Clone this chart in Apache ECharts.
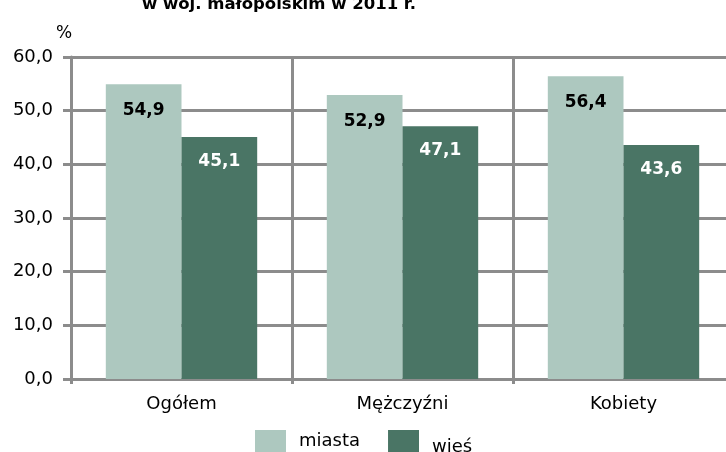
<!DOCTYPE html>
<html>
<head>
<meta charset="utf-8">
<script src="https://cdn.jsdelivr.net/npm/echarts@6/dist/echarts.min.js"></script>
<style>
  html, body { margin: 0; padding: 0; background: #fff; overflow: hidden; }
  /* the plot runs a bit past the right edge of the picture, as in the source */
  #chart { width: 740px; height: 452px; }
</style>
</head>
<body>
<div id="chart"></div>
<script>
const categories = ['Ogółem', 'Mężczyźni', 'Kobiety']
const miasta = [54.9, 52.9, 56.4]
const wies = [45.1, 47.1, 43.6]
const yTicks = { min: 0, max: 60, interval: 10 }

const font = '"DejaVu Sans", Arial, sans-serif'
const gridColor = '#8c8c8c'
const fmt = v => v.toFixed(1).replace('.', ',')

const chart = echarts.init(document.getElementById('chart'))

chart.setOption({
    animation: false,
    textStyle: { fontFamily: font },
    graphic: [
        {
            type: 'text', left: 142, top: -4,
            style: { text: 'w woj. małopolskim w 2011 r.', font: 'bold 16.5px ' + font, fill: '#000' }
        },
        {
            type: 'text', left: 56, top: 25,
            style: { text: '%', font: '17px ' + font, fill: '#000' }
        }
    ],
    legend: {
        top: 430,
        left: 255,
        padding: 0,
        itemWidth: 31,
        itemHeight: 22,
        itemGap: 28,
        icon: 'rect',
        data: ['miasta', 'wieś'],
        formatter: name => name === 'wieś' ? '{b|' + name + '}' : '{a|' + name + '}',
        textStyle: {
            fontFamily: font, fontSize: 18, color: '#000',
            rich: {
                a: { fontFamily: font, fontSize: 18, padding: [0, 0, 0, 8] },
                b: { fontFamily: font, fontSize: 18, padding: [12, 0, 0, 8] }
            }
        }
    },
    grid: { left: 71, top: 57, width: 663, height: 322, containLabel: false },
    xAxis: {
        type: 'category',
        data: categories,
        axisLine: { lineStyle: { color: gridColor, width: 3 } },
        axisTick: { show: true, length: 5, lineStyle: { color: gridColor, width: 3 } },
        splitLine: { show: true, lineStyle: { color: gridColor, width: 3 } },
        axisLabel: { color: '#000', fontSize: 18, fontFamily: font, margin: 16 }
    },
    yAxis: {
        type: 'value',
        min: yTicks.min,
        max: yTicks.max,
        interval: yTicks.interval,
        axisLine: { show: true, lineStyle: { color: gridColor, width: 3 } },
        axisTick: { show: true, length: 8, lineStyle: { color: gridColor, width: 3 } },
        splitLine: { show: true, lineStyle: { color: gridColor, width: 3 } },
        axisLabel: { color: '#000', fontSize: 18, fontFamily: font, margin: 18, formatter: v => fmt(v) }
    },
    series: [
        {
            name: 'miasta',
            type: 'bar',
            data: miasta,
            barGap: '0%',
            barCategoryGap: '31.5%',
            itemStyle: { color: '#adc8bf' },
            label: {
                show: true, position: 'insideTop', distance: 18,
                color: '#000', fontWeight: 'bold', fontSize: 17, fontFamily: font,
                formatter: p => fmt(p.value)
            }
        },
        {
            name: 'wieś',
            type: 'bar',
            data: wies,
            itemStyle: { color: '#4a7565' },
            label: {
                show: true, position: 'insideTop', distance: 16,
                color: '#fff', fontWeight: 'bold', fontSize: 17, fontFamily: font,
                formatter: p => fmt(p.value)
            }
        }
    ]
})
</script>
</body>
</html>
